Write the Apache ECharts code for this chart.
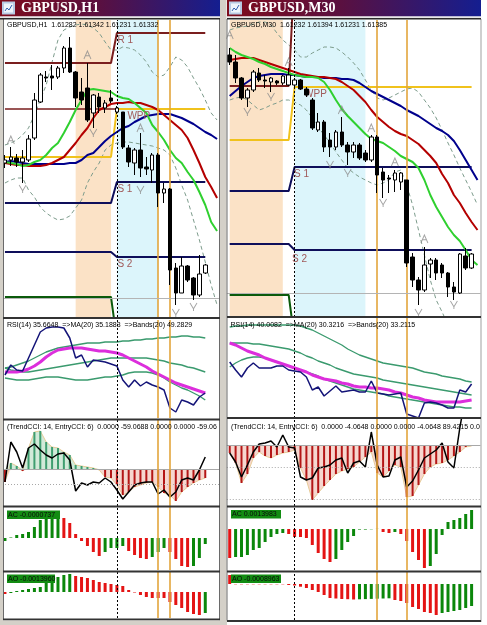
<!DOCTYPE html>
<html>
<head>
<meta charset="utf-8">
<script src="https://cdn.jsdelivr.net/npm/echarts/dist/echarts.min.js"></script>
<style>
html,body{margin:0;padding:0;background:#ffffff;overflow:hidden;}
#chart{width:487px;height:625px;}
</style>
</head>
<body>
<div id="chart"></div>
<script>
// ================= DATA : GBPUSD H1 (left window) =================
// candles: [open, close, low, high]
const h1Candles = [
[1.6235,1.6238,1.6230,1.6243],[1.6238,1.6241,1.6232,1.6251],[1.6240,1.6236,1.6231,1.6244],[1.6236,1.6240,1.6215,1.6248],
[1.6238,1.6259,1.6236,1.6263],[1.6260,1.6298,1.6258,1.6305],[1.6296,1.6323,1.6295,1.6325],[1.6321,1.6320,1.6316,1.6327],
[1.6322,1.6320,1.6308,1.6333],[1.6321,1.6330,1.6319,1.6332],[1.6330,1.6350,1.6325,1.6352],[1.6350,1.6326,1.6325,1.6361],
[1.6326,1.6300,1.6291,1.6327],[1.6306,1.6298,1.6293,1.6320],[1.6310,1.6278,1.6276,1.6335],[1.6285,1.6303,1.6270,1.6304],
[1.6301,1.6291,1.6285,1.6305],[1.6290,1.6295,1.6285,1.6298],[1.6300,1.6297,1.6295,1.6308],[1.6286,1.6290,1.6284,1.6292],
[1.6286,1.6251,1.6249,1.6286],[1.6250,1.6236,1.6231,1.6253],[1.6235,1.6248,1.6223,1.6250],[1.6248,1.6230,1.6221,1.6265],
[1.6231,1.6229,1.6223,1.6241],[1.6228,1.6243,1.6215,1.6245],[1.6243,1.6205,1.6191,1.6245],[1.6205,1.6209,1.6195,1.6215],
[1.6209,1.6128,1.6113,1.6210],[1.6130,1.6105,1.6093,1.6135],[1.6105,1.6132,1.6105,1.6141],[1.6132,1.6118,1.6116,1.6133],
[1.6120,1.6103,1.6098,1.6121],[1.6103,1.6124,1.6101,1.6143],[1.6125,1.6133,1.6124,1.6134]
];
const h1MaGreen = [1.6236,1.6235,1.6234,1.6232,1.6233,1.6236,1.6238,1.6243,1.6250,1.6255,1.6265,1.6276,1.6288,1.6298,1.6308,1.6309,1.6308,1.6307,1.6306,1.6302,1.6300,1.6299,1.6295,1.6290,1.6285,1.6273,1.6266,1.6258,1.6248,1.6240,1.6235,1.6226,1.6218,1.6206,1.6193,1.6176,1.6167];
const h1MaRed = [1.6235,1.6234,1.6233,1.6233,1.6232,1.6232,1.6232,1.6233,1.6235,1.6238,1.6241,1.6248,1.6255,1.6263,1.6270,1.6280,1.6288,1.6291,1.6294,1.6295,1.6295,1.6296,1.6295,1.6295,1.6293,1.6291,1.6288,1.6283,1.6278,1.6273,1.6268,1.6260,1.6248,1.6235,1.6221,1.6211,1.6200];
const h1MaBlue = [1.6236,1.6237,1.6236,1.6235,1.6234,1.6234,1.6234,1.6234,1.6234,1.6234,1.6234,1.6235,1.6235,1.6238,1.6243,1.6245,1.6251,1.6257,1.6262,1.6266,1.6270,1.6272,1.6276,1.6279,1.6282,1.6283,1.6284,1.6284,1.6284,1.6282,1.6280,1.6277,1.6274,1.6270,1.6266,1.6263,1.6259];
const h1BandUp = [1.6253,1.6255,1.6258,1.6263,1.6270,1.6283,1.6298,1.6313,1.6336,1.6358,1.6368,1.6371,1.6373,1.6374,1.6373,1.6370,1.6365,1.6356,1.6348,1.6348,1.6351,1.6350,1.6348,1.6343,1.6336,1.6326,1.6321,1.6323,1.6331,1.6341,1.6338,1.6331,1.6320,1.6310,1.6298,1.6285,1.6278];
const h1BandLo = [1.6215,1.6218,1.6220,1.6220,1.6208,1.6201,1.6191,1.6185,1.6181,1.6178,1.6179,1.6182,1.6190,1.6198,1.6215,1.6226,1.6235,1.6248,1.6253,1.6255,1.6256,1.6256,1.6255,1.6254,1.6253,1.6252,1.6250,1.6248,1.6243,1.6230,1.6213,1.6198,1.6178,1.6158,1.6136,1.6113,1.6093];
const h1PivR1 = [1.6335,1.6335,1.6335,1.6335,1.6335,1.6335,1.6335,1.6335,1.6335,1.6335,1.6335,1.6335,1.6335,1.6335,1.6335,1.6335,1.6335,1.6335,1.6335,1.6365,1.6365,1.6365,1.6365,1.6365,1.6365,1.6365,1.6365,1.6365,1.6365,1.6365,1.6365,1.6365,1.6365,1.6365,1.6365];
const h1PivOld = [1.6289,1.6289,1.6289,1.6289,1.6289,1.6289,1.6289,1.6289,1.6289,1.6289,1.6289,1.6289,1.6289,1.6289,1.6289,1.6289,1.6289,1.6289,1.6289,1.6289,null,null,null,null,null,null,null,null,null,null,null,null,null,null,null];
const h1PivPP = [1.6241,1.6241,1.6241,1.6241,1.6241,1.6241,1.6241,1.6241,1.6241,1.6241,1.6241,1.6241,1.6241,1.6241,1.6241,1.6241,1.6241,1.6241,1.6241,1.6289,1.6289,1.6289,1.6289,1.6289,1.6289,1.6289,1.6289,1.6289,1.6289,1.6289,1.6289,1.6289,1.6289,1.6289,1.6289];
const h1PivS1 = [1.6195,1.6195,1.6195,1.6195,1.6195,1.6195,1.6195,1.6195,1.6195,1.6195,1.6195,1.6195,1.6195,1.6195,1.6195,1.6195,1.6195,1.6195,1.6195,1.6216,1.6216,1.6216,1.6216,1.6216,1.6216,1.6216,1.6216,1.6216,1.6216,1.6216,1.6216,1.6216,1.6216,1.6216,1.6216];
const h1PivS2 = [1.6146,1.6146,1.6146,1.6146,1.6146,1.6146,1.6146,1.6146,1.6146,1.6146,1.6146,1.6146,1.6146,1.6146,1.6146,1.6146,1.6146,1.6146,1.6146,1.6141,1.6141,1.6141,1.6141,1.6141,1.6141,1.6141,1.6141,1.6141,1.6141,1.6141,1.6141,1.6141,1.6141,1.6141,1.6141];
const h1PivS3 = [1.6101,1.6101,1.6101,1.6101,1.6101,1.6101,1.6101,1.6101,1.6101,1.6101,1.6101,1.6101,1.6101,1.6101,1.6101,1.6101,1.6101,1.6101,1.6101,1.6058,null,null,null,null,null,null,null,null,null,null,null,null,null,null,null];
const h1FracUp = [[1,1.6258],[14,1.6343],[23,1.6270]];
const h1FracDn = [[3,1.6209],[15,1.6265],[23,1.6208],[29,1.6085],[32,1.6091]];
const h1Rsi = [43.5,48.5,46,45.5,52,58.5,65,67,67.5,67.5,67,62,52,53.5,47.5,51,50.5,50,49,48,41,37.5,41,38,40,38.5,37.5,36,27,25,31,30,28.5,32.5,34.5];
const h1RsiMa = [45,45,45,45.5,46.5,48,50,52.5,54.5,56,56.5,57,57,57,56.5,56,55.5,55.5,55,54.5,53.5,52,50.5,49,47.5,45.5,44,42.5,41,39.5,38.5,37.5,36.5,35.5,34.5];
const h1RsiUp = [47,47.5,48.5,49.5,50.5,52,53.5,55,56,57,57.5,58,58.5,59,59.5,59.5,59.5,60,60,60,60.5,60.5,61,61,61.5,61.5,62,62,62.5,62.5,63,63,62.5,62.5,62];
const h1RsiMid = [47,46,45.5,45,45,45.5,46,46.5,47,47.5,48,48.5,49,49.5,50,50.5,51,51.5,52,52,52,52,52,52,52,51.5,51,50.5,49.5,49,48.5,47.5,47,46,45];
const h1RsiLo = [42,41.5,41,41,41,41.5,42,42.5,42.5,42.5,42,41.5,41,41,41,41.5,42,42.5,42.5,43,43.5,44.5,45,45,45,44.5,43.5,42,40,38.5,37,36,34.5,33,31];
const h1TrendCci = [-65,30,15,-10,105,185,190,135,110,105,85,70,20,15,10,5,-5,-40,-45,-80,-130,-115,-90,-80,-70,-65,-90,-120,-130,-160,-115,-90,-70,-55,-45];
const h1EntryCci = [-65,135,85,5,105,125,95,70,55,75,80,45,-110,-70,-80,-65,-70,-45,-65,-105,-150,-115,-80,-70,-65,-65,-125,-105,-140,-115,-55,-45,-55,-5,60];
const h1Ac = [-0.00003,0.000005,0.00003,0.00004,0.00006,0.00011,0.00018,0.0002,0.0002,0.00021,0.0002,0.00015,0.00004,-0.00003,-0.00008,-0.00014,-0.00018,-0.00014,-0.0001,-0.0001,-0.00008,-0.00013,-0.00017,-0.0002,-0.00021,-0.00019,-0.00014,-0.0001,-0.00014,-0.00021,-0.00028,-0.00029,-0.00028,-0.0002,-0.00006];
const h1Ao = [-0.00014,-0.00007,0.00007,0.00014,0.00021,0.00028,0.00035,0.0007,0.00105,0.00105,0.00119,0.00126,0.00112,0.00105,0.00098,0.00084,0.0007,0.00063,0.00056,0.00049,0.00042,0.00014,-0.000035,-0.00021,-0.00035,-0.00042,-0.00042,-0.00042,-0.0007,-0.00091,-0.00112,-0.0014,-0.00154,-0.00161,-0.00147];

// ================= DATA : GBPUSD M30 (right window) =================
const m30Candles = [
[1.6338,1.6331,1.6328,1.6345],[1.6331,1.6315,1.6310,1.6338],[1.6315,1.6295,1.6293,1.6316],[1.6295,1.6303,1.6286,1.6305],
[1.6303,1.6321,1.6301,1.6323],[1.6320,1.6313,1.6311,1.6325],[1.6313,1.6312,1.6305,1.6318],[1.6311,1.6315,1.6301,1.6316],
[1.6312,1.6310,1.6308,1.6313],[1.6310,1.6317,1.6308,1.6318],[1.6308,1.6318,1.6307,1.6325],[1.6308,1.6313,1.6306,1.6315],
[1.6313,1.6304,1.6303,1.6314],[1.6304,1.6298,1.6296,1.6306],[1.6293,1.6265,1.6263,1.6295],[1.6263,1.6271,1.6261,1.6280],
[1.6271,1.6246,1.6241,1.6273],[1.6253,1.6246,1.6236,1.6260],[1.6246,1.6261,1.6243,1.6263],[1.6261,1.6248,1.6246,1.6276],
[1.6248,1.6241,1.6228,1.6251],[1.6241,1.6248,1.6235,1.6251],[1.6248,1.6235,1.6233,1.6250],[1.6240,1.6233,1.6231,1.6243],
[1.6233,1.6256,1.6231,1.6258],[1.6256,1.6218,1.6200,1.6258],[1.6221,1.6213,1.6195,1.6225],[1.6215,1.6214,1.6200,1.6218],
[1.6213,1.6220,1.6201,1.6223],[1.6211,1.6220,1.6203,1.6221],[1.6213,1.6130,1.6126,1.6213],[1.6136,1.6113,1.6106,1.6140],
[1.6113,1.6103,1.6088,1.6116],[1.6103,1.6128,1.6101,1.6146],[1.6129,1.6133,1.6115,1.6135],[1.6133,1.6120,1.6113,1.6135],
[1.6128,1.6120,1.6115,1.6130],[1.6120,1.6106,1.6096,1.6121],[1.6106,1.6101,1.6093,1.6111],[1.6100,1.6139,1.6099,1.6140],
[1.6137,1.6125,1.6123,1.6145],[1.6125,1.6139,1.6124,1.6140]
];
const m30MaGreen = [1.6345,1.6341,1.6338,1.6336,1.6334,1.6331,1.6329,1.6326,1.6324,1.6322,1.6320,1.6318,1.6317,1.6316,1.6316,1.6315,1.6311,1.6303,1.6293,1.6284,1.6277,1.6271,1.6265,1.6259,1.6254,1.6252,1.6250,1.6246,1.6242,1.6237,1.6234,1.6231,1.6225,1.6213,1.6198,1.6186,1.6176,1.6166,1.6158,1.6152,1.6143,1.6133,1.6128];
const m30MaRed = [1.6333,1.6334,1.6335,1.6335,1.6335,1.6333,1.6331,1.6329,1.6327,1.6325,1.6323,1.6321,1.6319,1.6318,1.6317,1.6316,1.6316,1.6315,1.6314,1.6311,1.6307,1.6303,1.6297,1.6291,1.6283,1.6276,1.6271,1.6266,1.6262,1.6259,1.6257,1.6253,1.6249,1.6243,1.6237,1.6230,1.6219,1.6210,1.6198,1.6190,1.6180,1.6171,1.6163];
const m30MaBlue = [1.6297,1.6302,1.6307,1.6311,1.6315,1.6317,1.6318,1.6319,1.6319,1.6319,1.6318,1.6318,1.6317,1.6316,1.6316,1.6316,1.6315,1.6315,1.6315,1.6314,1.6314,1.6313,1.6310,1.6306,1.6302,1.6299,1.6296,1.6293,1.6290,1.6287,1.6283,1.6280,1.6277,1.6273,1.6269,1.6265,1.6262,1.6258,1.6252,1.6243,1.6233,1.6223,1.6213];
const m30BandUp = [1.6363,1.6365,1.6366,1.6367,1.6369,1.6371,1.6371,1.6368,1.6360,1.6353,1.6348,1.6343,1.6336,1.6336,1.6340,1.6343,1.6346,1.6346,1.6345,1.6341,1.6336,1.6330,1.6323,1.6313,1.6303,1.6295,1.6293,1.6295,1.6298,1.6301,1.6304,1.6305,1.6301,1.6293,1.6285,1.6275,1.6263,1.6250,1.6238,1.6225,1.6213,1.6201,1.6188];
const m30BandLo = [1.6293,1.6295,1.6296,1.6293,1.6288,1.6283,1.6285,1.6288,1.6290,1.6293,1.6293,1.6291,1.6288,1.6283,1.6275,1.6266,1.6258,1.6250,1.6241,1.6233,1.6225,1.6220,1.6216,1.6213,1.6210,1.6208,1.6210,1.6213,1.6221,1.6223,1.6208,1.6188,1.6163,1.6138,1.6113,1.6093,1.6081,1.6068,null,null,null,null,null];
const m30PivR1 = [1.6307,1.6307,1.6307,1.6307,1.6307,1.6307,1.6307,1.6307,1.6307,1.6307,1.6307,1.6423,null,null,null,null,null,null,null,null,null,null,null,null,null,null,null,null,null,null,null,null,null,null,null,null,null,null,null,null,null,null];
const m30PivPP = [1.6253,1.6253,1.6253,1.6253,1.6253,1.6253,1.6253,1.6253,1.6253,1.6253,1.6253,1.6306,1.6306,1.6306,1.6306,1.6306,1.6306,1.6306,1.6306,1.6306,1.6306,1.6306,1.6306,1.6306,1.6306,1.6306,1.6306,1.6306,1.6306,1.6306,1.6306,1.6306,1.6306,1.6306,1.6306,1.6306,1.6306,1.6306,1.6306,1.6306,1.6306,1.6306];
const m30PivS1 = [1.6202,1.6202,1.6202,1.6202,1.6202,1.6202,1.6202,1.6202,1.6202,1.6202,1.6202,1.6226,1.6226,1.6226,1.6226,1.6226,1.6226,1.6226,1.6226,1.6226,1.6226,1.6226,1.6226,1.6226,1.6226,1.6226,1.6226,1.6226,1.6226,1.6226,1.6226,1.6226,1.6226,1.6226,1.6226,1.6226,1.6226,1.6226,1.6226,1.6226,1.6226,1.6226];
const m30PivS2 = [1.6149,1.6149,1.6149,1.6149,1.6149,1.6149,1.6149,1.6149,1.6149,1.6149,1.6149,1.6143,1.6143,1.6143,1.6143,1.6143,1.6143,1.6143,1.6143,1.6143,1.6143,1.6143,1.6143,1.6143,1.6143,1.6143,1.6143,1.6143,1.6143,1.6143,1.6143,1.6143,1.6143,1.6143,1.6143,1.6143,1.6143,1.6143,1.6143,1.6143,1.6143,1.6143];
const m30PivS3 = [1.6098,1.6098,1.6098,1.6098,1.6098,1.6098,1.6098,1.6098,1.6098,1.6098,1.6098,1.6053,null,null,null,null,null,null,null,null,null,null,null,null,null,null,null,null,null,null,null,null,null,null,null,null,null,null,null,null,null,null];
const m30FracUp = [[0,1.6358],[10,1.6331],[19,1.6283],[24,1.6265],[28,1.6231],[33,1.6154]];
const m30FracDn = [[3,1.6281],[7,1.6296],[17,1.6228],[20,1.6220],[26,1.6190],[32,1.6080],[38,1.6088]];
const m30Rsi = [50,46,42.5,47,49.5,47,47,47,48,48,46,45.5,45,42.5,36,37.5,33,35.5,38,35,35.5,36,35,35,40.5,34.5,34,33.5,34,34.5,24,23,22,29.5,30,29.5,28.5,27,27,36,35,39];
const m30RsiMa = [59.5,58.5,57,55.5,54.5,53.5,52,51,50,49,48,47,46,45,43.5,42.5,41.5,41,40.5,39.5,39,38,37.5,37.5,37,37,36.5,36,35,34.5,33.5,32.5,32,31,30.5,30,30,30,30,30,30.5,31];
const m30RsiUp = [67.5,68,68,68.5,68.5,68.5,68.5,68.5,68.5,68.5,68.5,68.5,68,67,66,64.5,63,61.5,60,58.5,56.5,55,53.5,52.5,51.5,50.5,49.5,49,48.5,48,47.5,47,46,45,44.5,44,43,42.5,42,41.5,40.5,40];
const m30RsiMid = [59.5,59.5,59.5,59.5,59,59,58.5,58,57.5,57,56.5,55.5,54.5,53,52,50.5,49.5,48.5,47,46,45,44,43.5,43,42.5,42,41,40.5,40,39.5,39,38.5,38,37.5,37,36.5,36,35.5,35,34.5,34,33.5];
const m30RsiLo = [47.5,49.5,51,52,52.5,52.5,52,51,50,49,48,47,46,45,44,43,41.5,40.5,39.5,38.5,37.5,36.5,36,35.5,35,34.5,34,33,32.5,32,31.5,31,30.5,30,29.5,29,28.5,28,27.5,27.5,27,27];
const m30TrendCci = [-40,-90,-190,-145,-65,-35,-55,-65,-50,-40,-35,-25,-115,-175,-275,-240,-205,-175,-145,-130,-120,-110,-85,-60,-35,-140,-160,-130,-100,-110,-260,-255,-200,-145,-110,-95,-90,-75,-55,-35,-10,-5];
const m30EntryCci = [-40,-85,-160,-100,-35,5,10,20,-10,50,-10,-15,-160,-175,-165,-115,-110,-100,-75,-65,-140,-90,-80,-110,65,-100,-160,-155,-75,-60,-210,-180,-125,-65,-45,-25,10,-85,-115,85,250,275];
const m30Ac = [-0.00203,-0.00196,-0.00196,-0.00182,-0.00147,-0.00133,-0.00091,-0.00056,-0.00035,-0.00028,-0.00035,-0.00056,-0.00056,-0.00063,-0.00112,-0.00168,-0.0021,-0.00231,-0.0021,-0.00147,-0.00091,-0.00049,-0.00004,-0.00004,-0.00002,0.00001,-0.00021,-0.00028,-0.00021,-0.00035,-0.00084,-0.00161,-0.00217,-0.00273,-0.00259,-0.00175,-0.00042,0.00049,0.00063,0.00077,0.00105,0.00133];
const m30Ao = [0.00036,-0.000012,-0.000012,-0.000012,-0.000012,-0.000012,-0.000012,-0.000012,-0.000012,-0.000012,-0.00004,-0.00006,-0.000108,-0.00016,-0.00024,-0.00032,-0.00044,-0.00056,-0.00058,-0.0006,-0.000608,-0.00062,-0.000612,-0.000604,-0.000596,-0.000588,-0.00058,-0.000572,-0.00064,-0.00068,-0.00076,-0.00092,-0.001,-0.00112,-0.00116,-0.00124,-0.00116,-0.00112,-0.00108,-0.00104,-0.00096,-0.00088];

// ================= TEXTS =================
const titles = ['GBPUSD,H1', 'GBPUSD,M30'];
const headerTexts = ['GBPUSD,H1  1.61282 1.61342 1.61231 1.61332', 'GBPUSD,M30  1.61232 1.61394 1.61231 1.61385'];
const rsiTexts = ['RSI(14) 35.6648  =>MA(20) 35.1883  =>Bands(20) 49.2829', 'RSI(14) 40.0082  =>MA(20) 30.3216  =>Bands(20) 33.2115'];
const cciTexts = ['(TrendCCI: 14, EntryCCI: 6)  0.0000 -59.0688 0.0000 0.0000 -59.06', '(TrendCCI: 14, EntryCCI: 6)  0.0000 -4.0648 0.0000 0.0000 -4.0648 89.4215 0.0'];
const acTexts = ['AC -0.0000737', 'AC 0.0013983'];
const aoTexts = ['AO -0.0013960', 'AO -0.0008963'];

// ================= BUILD =================
const FONT = '"Liberation Sans", Arial, sans-serif';
const SERIF = '"Liberation Serif", "Times New Roman", serif';

function cats(n){ const a=[]; for(let i=0;i<n;i++) a.push(String(i)); return a; }
function upDownColors(vals, first){
  const up='#0b870b', dn='#e41414'; let c = first==='up'?up:dn; const out=[];
  for(let i=0;i<vals.length;i++){ if(i>0){ if(vals[i]>vals[i-1]) c=up; else if(vals[i]<vals[i-1]) c=dn; } out.push(c); }
  return out;
}

const windows = [
 { n:37, left:2, width:218,
   panels:[[20,297],[320,98],[420,86],[507,63],[572,46]],
   ranges:[[1.6081,1.6378],[22,71],[-185,245],[-0.00032,0.00031],[-0.00182,0.0014]],
   candles:h1Candles, maG:h1MaGreen, maR:h1MaRed, maB:h1MaBlue, bUp:h1BandUp, bLo:h1BandLo,
   piv:{r1:h1PivR1, old:h1PivOld, pp:h1PivPP, s1:h1PivS1, s2:h1PivS2, s3:h1PivS3},
   pivLabels:{r1:[[19,1.6365],'R 1',[1,3]], pp:[[19,1.6289],'WPP',[11,3]], s1:[[19,1.6216],'S 1',[1,3]], s2:[[19,1.6141],'S 2',[1,3]]},
   fUp:h1FracUp, fDn:h1FracDn,
   rsi:h1Rsi, rsiMa:h1RsiMa, rsiUp:h1RsiUp, rsiMid:h1RsiMid, rsiLo:h1RsiLo,
   tcci:h1TrendCci, ecci:h1EntryCci, cciLevels:[[0,'solid'],[-75,'dotted']],
   ac:h1Ac, acFirst:'up', ao:h1Ao, aoFirst:'dn',
   dashAt:19, orangeAt:[26,28], shades:[[12,18,'#fbe2c6'],[19,26,'#dcf5fb']] },
 { n:43, left:226.75, width:253.7,
   panels:[[20,297],[318,100],[418,88],[507,63],[572,48]],
   ranges:[[1.6076,1.6373],[22,72],[-305,135],[-0.00287,0.00154],[-0.00144,0.00048]],
   candles:m30Candles, maG:m30MaGreen, maR:m30MaRed, maB:m30MaBlue, bUp:m30BandUp, bLo:m30BandLo,
   piv:{r1:m30PivR1, old:null, pp:m30PivPP, s1:m30PivS1, s2:m30PivS2, s3:m30PivS3},
   pivLabels:{pp:[[11,1.6306],'WPP',[10,3]], s1:[[11,1.6226],'S 1',[0,3]], s2:[[11,1.6143],'S 2',[-2,5]]},
   fUp:m30FracUp, fDn:m30FracDn,
   rsi:m30Rsi, rsiMa:m30RsiMa, rsiUp:m30RsiUp, rsiMid:m30RsiMid, rsiLo:m30RsiLo,
   tcci:m30TrendCci, ecci:m30EntryCci, cciLevels:[[0,'solid'],[-110,'dotted'],[-270,'dotted']],
   ac:m30Ac, acFirst:'dn', ao:m30Ao, aoFirst:'dn',
   dashAt:11, orangeAt:[25,30], shades:[[0,9,'#fbe2c6'],[11,23,'#dcf5fb']] }
];

const grids=[], xAxes=[], yAxes=[], series=[];
windows.forEach((W, wi) => {
  const g0 = wi*5;
  const catsW = cats(W.n);
  W.panels.forEach((p,k) => {
    grids.push({left:W.left, width:W.width, top:p[0], height:p[1], show:false});
    xAxes.push({type:'category', gridIndex:g0+k, data:catsW, show:false, boundaryGap:true});
    yAxes.push({type:'value', gridIndex:g0+k, min:W.ranges[k][0], max:W.ranges[k][1], show:false, splitLine:{show:false}});
  });
  const ax = k => ({xAxisIndex:g0+k, yAxisIndex:g0+k});
  const vlines = () => ({silent:true, symbol:['none','none'], label:{show:false}, animation:false,
    data:[{xAxis:W.dashAt, lineStyle:{color:'#000000', width:1, type:[2,2]}}]
      .concat(W.orangeAt.map(x => ({xAxis:x, lineStyle:{color:'#e3a53c', width:1.6, type:'solid'}})))});
  const line = (k, data, color, width, extra) => Object.assign({type:'line', ...ax(k), data, showSymbol:false, symbol:'none',
    lineStyle:{color, width}, silent:true, animation:false, z:3}, extra||{});
  const labelMP = (def) => def ? {silent:true, symbol:'rect', symbolSize:1, itemStyle:{color:'rgba(0,0,0,0)'}, animation:false,
    data:[{coord:def[0], label:{show:true, formatter:def[1], position:def[2], color:'#a05a5a', fontSize:10, fontFamily:FONT}}]} : undefined;

  // ---- main chart ----
  series.push({type:'line', ...ax(0), data:[], silent:true, z:1, animation:false,
    markArea:{silent:true, animation:false, data: W.shades.map(s => [{xAxis:s[0], itemStyle:{color:s[2]}}, {xAxis:s[1]}])},
    markLine: vlines()});
  series.push(line(0, W.bUp, '#7d9c8c', 1, {lineStyle:{color:'#7d9c8c', width:1, type:[4,3]}}));
  series.push(line(0, W.bLo, '#7d9c8c', 1, {lineStyle:{color:'#7d9c8c', width:1, type:[4,3]}}));
  if (W.piv.old) series.push(line(0, W.piv.old, '#7a1e1e', 1.5));
  series.push(line(0, W.piv.r1, '#7a1e1e', 2, {markPoint: labelMP(W.pivLabels.r1)}));
  series.push(line(0, W.piv.pp, '#f0c21c', 2, {markPoint: labelMP(W.pivLabels.pp)}));
  series.push(line(0, W.piv.s1, '#0e0e5a', 2, {markPoint: labelMP(W.pivLabels.s1)}));
  series.push(line(0, W.piv.s2, '#0e0e5a', 2, {markPoint: labelMP(W.pivLabels.s2)}));
  series.push(line(0, W.piv.s3, '#0b5a0b', 2));
  series.push(line(0, W.maB, '#00008c', 2, {z:4}));
  series.push(line(0, W.maR, '#b40000', 2, {z:4}));
  series.push(line(0, W.maG, '#2fd02f', 2, {z:4}));
  const last = W.candles[W.candles.length-1];
  series.push({type:'candlestick', ...ax(0), data:W.candles, barWidth:4, silent:true, animation:false, z:5,
    itemStyle:{color:'#ffffff', color0:'#000000', borderColor:'#000000', borderColor0:'#000000', borderWidth:1},
    markLine:{silent:true, symbol:['none','none'], label:{show:false}, animation:false,
      data:[{yAxis:last[1], lineStyle:{color:'#b4b4b4', width:1, type:'solid'}}]}});
  series.push({type:'scatter', ...ax(0), data:W.fUp, symbol:'path://M0,10L5,0L10,10M2.5,6L7.5,6', symbolSize:[7,8],
    itemStyle:{color:'rgba(0,0,0,0)', borderColor:'#8c8c8c', borderWidth:1}, silent:true, animation:false, z:6});
  series.push({type:'scatter', ...ax(0), data:W.fDn, symbol:'path://M0,0L5,8L10,0M5,8L5,11', symbolSize:[7,8],
    itemStyle:{color:'rgba(0,0,0,0)', borderColor:'#8c8c8c', borderWidth:1}, silent:true, animation:false, z:6});

  // ---- RSI ----
  series.push(line(1, W.rsiUp, '#3a9a6e', 1.4, {markLine: vlines(), z:2}));
  series.push(line(1, W.rsiMid, '#3a9a6e', 1.4, {z:2}));
  series.push(line(1, W.rsiLo, '#3a9a6e', 1.4, {z:2}));
  series.push(line(1, W.rsiMa, '#dc2edc', 3, {z:3}));
  series.push(line(1, W.rsi, '#141478', 1.5, {z:4}));

  // ---- CCI ----
  series.push(line(2, W.tcci.map(v => v>0?v:0), '#000', 0, {lineStyle:{width:0}, areaStyle:{color:'#d2ead9', opacity:1}, z:1}));
  series.push(line(2, W.tcci.map(v => v<0?v:0), '#000', 0, {lineStyle:{width:0}, areaStyle:{color:'#f6d7cf', opacity:1}, z:1}));
  series.push(line(2, W.tcci, '#e8cc98', 1, {z:2}));
  series.push({type:'bar', ...ax(2), data:W.tcci, barWidth:2, silent:true, animation:false, z:3,
    itemStyle:{color: p => p.value>=0 ? '#3f9e70' : '#b41616'},
    markLine:{silent:true, symbol:['none','none'], label:{show:false}, animation:false,
      data: W.cciLevels.map(l => ({yAxis:l[0], lineStyle:{color:'#a8a8a8', width:1, type:l[1]==='solid'?'solid':[1,2]}}))
        .concat(vlines().data)}});
  series.push(line(2, W.ecci, '#000000', 1.5, {z:4}));

  // ---- AC / AO ----
  const acCols = upDownColors(W.ac, W.acFirst);
  const aoCols = upDownColors(W.ao, W.aoFirst);
  series.push({type:'bar', ...ax(3), data:W.ac, barWidth:3, silent:true, animation:false, z:3,
    itemStyle:{color: p => acCols[p.dataIndex]}, markLine: vlines()});
  series.push({type:'bar', ...ax(4), data:W.ao, barWidth:3, silent:true, animation:false, z:3,
    itemStyle:{color: p => aoCols[p.dataIndex]}, markLine: vlines()});
});

// ---- frame / text graphics ----
const gfx = [];
const rect = (x,y,w,h,fill,z) => gfx.push({type:'rect', shape:{x,y,width:w,height:h}, style:{fill}, z:z===undefined?100:z, silent:true});
const text = (x,y,t,opt) => gfx.push({type:'text', x, y, z:101, silent:true,
  style:Object.assign({text:t, fill:'#000', font:'7px '+FONT, verticalAlign:'top', textVerticalAlign:'top'}, opt||{})});

// window frames
rect(0,0,3,625,'#d4d0c8'); rect(3,19,1,601,'#6a6a6a');
rect(219.5,0,7,625,'#d4d0c8'); rect(219,19,1,601,'#6a6a6a'); rect(226.5,19,1,603,'#6a6a6a');
rect(481,0,6,625,'#ffffff'); rect(480.5,19,1,603,'#a0a0a0');
// title bars
const titleBar = (x,w,label) => {
  gfx.push({type:'rect', shape:{x, y:0, width:w, height:16.5}, z:100, silent:true,
    style:{fill:{type:'linear', x:0, y:0, x2:1, y2:0, colorStops:[{offset:0,color:'#7e0c1c'},{offset:0.45,color:'#5a1040'},{offset:1,color:'#141e90'}]}}});
  rect(x,16.5,w,1.5,'#e8e8e8'); rect(x,18,w,1.5,'#2a2a2a');
  rect(x+2,1.5,13,13,'#b8cbe4'); rect(x+4,3.5,9,9,'#eef4fb');
  gfx.push({type:'polyline', shape:{points:[[x+5,11],[x+7,8],[x+9,10],[x+12,5]]}, style:{stroke:'#3060b0', lineWidth:1, fill:null}, z:101, silent:true});
  text(x+21, 1.5, label, {fill:'#ffffff', font:'bold 14px '+SERIF});
};
titleBar(0,220,titles[0]);
titleBar(227,254,titles[1]);
// panel separators
[317,418.5,505.5,570.5,618.5].forEach(y => rect(3,y,217,2,'#333333'));
[316,417,505.5,570.5,620].forEach(y => rect(227,y,254,2,'#333333'));
rect(0,620.5,227,4.5,'#d4d0c8');
// header texts
text(7,22,headerTexts[0]); text(231,22,headerTexts[1]);
text(7,322,rsiTexts[0]); text(230.5,321.5,rsiTexts[1]);
text(7,424,cciTexts[0]); text(231,423.5,cciTexts[1]);
const box = (x,y,w,t) => { rect(x,y,w,8.5,'#128c12',101); text(x+1,y+0.8,t,{fill:'#0a0a0a'}); };
box(7,510.5,53,acTexts[0]); box(7,574.5,48,aoTexts[0]);
box(231,510,50,acTexts[1]); box(231,574.5,50,aoTexts[1]);

const option = {
  animation:false, backgroundColor:'#ffffff',
  grid:grids, xAxis:xAxes, yAxis:yAxes, series:series, graphic:{elements:gfx}
};
const chart = echarts.init(document.getElementById('chart'), null, {renderer:'canvas'});
chart.setOption(option);
</script>
</body>
</html>
